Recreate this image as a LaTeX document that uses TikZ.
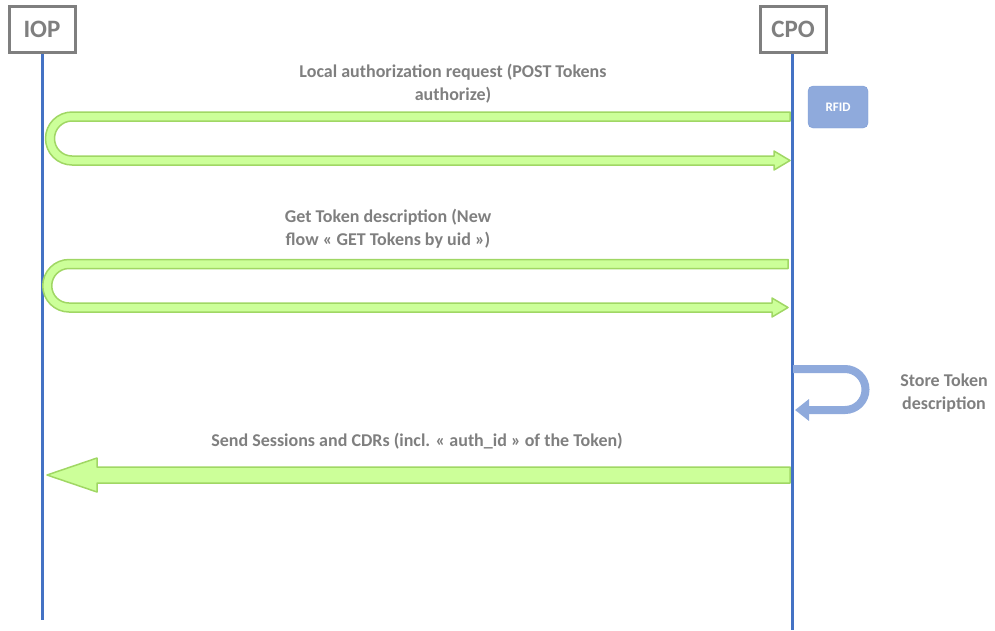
\documentclass[tikz,border=0pt]{standalone}
\usepackage{fontspec}
\setmainfont{Carlito}
\usepackage{tikz}
\usetikzlibrary{arrows.meta,  % pointes de fleches
           positioning}
\definecolor{gristexte}{RGB}{127,127,127}
\definecolor{bleuligne}{RGB}{68,114,196}
\definecolor{bleuclair}{RGB}{143,170,220}
\definecolor{vertfond}{RGB}{204,255,153}
\definecolor{vertbord}{RGB}{160,215,100}

% fleche en U : #1 = x du coude, #2 = y haut, #3 = y bas, #4 = x pointe
\newcommand\retour[4]{%
  \pgfmathsetmacro\cy{(#2+#3)/2}
  \pgfmathsetmacro\rr{(#3-#2)/2}
  \draw[fleche] (#4,#2-4.5)--(#1,#2-4.5)
     arc[start angle=270,end angle=90,radius=\rr+4.5]
     --(#4-16,#3+4.5)--(#4-16,#3+9.5)--(#4,#3)--(#4-16,#3-9.5)--(#4-16,#3-4.5)
     --(#1,#3-4.5) arc[start angle=90,end angle=270,radius=\rr-4.5]
     --(#4,#2+4.5)--cycle;}

\begin{document}
\begin{tikzpicture}[x=1pt,y=-1pt,
  acteur/.style={draw=gristexte,line width=3,fill=white,minimum width=66,
                 minimum height=46,inner sep=0,text=gristexte,font=\bfseries\fontsize{25}{27}\selectfont},
  vie/.style={bleuligne,line width=3},
  fleche/.style={fill=vertfond,draw=vertbord,line width=1.5,line join=round},
  msg/.style={text=gristexte,align=center,font=\bfseries\fontsize{18}{23}\selectfont}]
\useasboundingbox (0,0) rectangle (995,630);

% lignes de vie
\coordinate (finIOP) at (42,620);
\coordinate (finCPO) at (792,630);
\draw[vie] (42,50)--(finIOP);
\draw[vie] (792,50)--(finCPO);
\node[acteur] (IOP) at (42,29) {IOP};
\node[acteur] (CPO) at (793,29) {CPO};

% badge RFID
\node[fill=bleuclair,draw=bleuligne!70,rounded corners=5,minimum width=60,minimum height=42,
      text=white,font=\bfseries\fontsize{13}{14}\selectfont] (RFID) at (838,107) {RFID};

% demande d'autorisation
\node[msg] (m1) at (453,84) {Local authorization request (POST Tokens\\authorize)};
\retour{72}{116.5}{160.5}{790}

% description du jeton
\node[msg] (m2) at (388,229) {Get Token description (New\\flow « GET Tokens by uid »)};
\retour{69}{264}{307.5}{788}

% stockage cote CPO
\coordinate (sd) at (793,369);
\coordinate (sf) at (795,410);
\draw[bleuclair,line width=8,-{Triangle[length=14,width=21]}]
  (sd)--(845,369) arc[start angle=270,end angle=450,radius=20.5]--(sf);
\node[msg] (m3) at (944,393) {Store Token\\description};

% envoi des sessions
\node[msg] (m4) at (417,441) {Send Sessions and CDRs (incl. « auth\_id » of the Token)};
\draw[fleche] (790,467)--(97,467)--(97,458)--(47,475)--(97,492)--(97,483)--(790,483)--cycle;
\end{tikzpicture}
\end{document}
